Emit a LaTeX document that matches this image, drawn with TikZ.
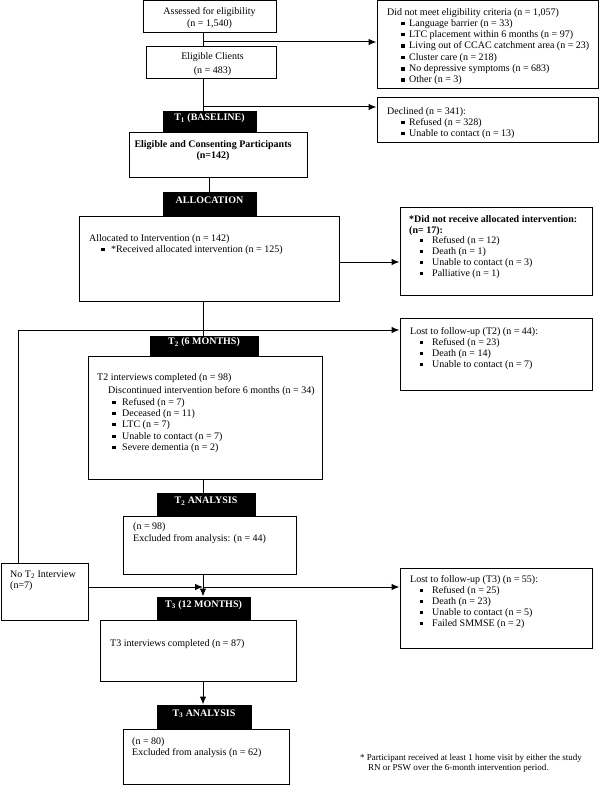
\documentclass[tikz,border=0pt]{standalone}
\usepackage{fontspec}
\setmainfont{Liberation Serif}
\usetikzlibrary{arrows.meta,fit}
\tikzset{
  box/.style={draw=black, line width=1pt, inner sep=0pt, fill=white},
  hdr/.style={fill=black, draw=black, line width=1pt, inner sep=0pt, text=white, font=\fontsize{10}{12}\selectfont\bfseries},
  txt/.style={inner sep=0pt, anchor=base west, font=\fontsize{10}{12}\selectfont},
  btxt/.style={txt, font=\fontsize{10}{12}\selectfont\bfseries},
  ctxt/.style={inner sep=0pt, anchor=base, font=\fontsize{10}{12}\selectfont},
  cbtxt/.style={ctxt, font=\fontsize{10}{12}\selectfont\bfseries},
  ftxt/.style={inner sep=0pt, anchor=base west, font=\fontsize{9}{10.5}\selectfont},
  conn/.style={line width=1pt},
  arr/.style={line width=1pt, -{Latex[length=8pt,width=6.5pt]}},
}
\newcommand\txtat[4]{\node[txt] (#1) at (#2,{#3+3}) {#4};}
\newcommand\bulat[5]{\node[txt] (#1) at (#2,{#4+3}) {\rule[1pt]{3.5pt}{3.5pt}\hspace{\dimexpr #3pt-#2pt-3.5pt\relax}#5};}
\begin{document}
\begin{tikzpicture}[x=1pt,y=-1pt]
\useasboundingbox (0,0) rectangle (600,789);
% ---------- boxes ----------
\node[box, fit={(143,1) (276,33)}] (A) {};
\node[box, fit={(146,47) (276,79)}] (B) {};
\node[box, fit={(377,1) (598,89)}] (R1) {};
\node[box, fit={(377,98) (598,142)}] (R2) {};
\node[box, fit={(129,132) (307,177)}] (C) {};
\node[box, fit={(79,216) (339,301)}] (D) {};
\node[box, fit={(400,207) (592,295)}] (R3) {};
\node[box, fit={(88,356) (322,479)}] (E) {};
\node[box, fit={(400,318) (592,390)}] (R4) {};
\node[box, fit={(123,516) (296,574)}] (F) {};
\node[box, fit={(1,563) (88,620)}] (G) {};
\node[box, fit={(100,620) (296,681)}] (H) {};
\node[box, fit={(400,568) (592,648)}] (R5) {};
\node[box, fit={(123,729) (289,784)}] (I) {};
% ---------- headers ----------
\node[hdr, fit={(163,112) (256,132)}] (T1) {T\textsubscript{1} (BASELINE)};
\node[hdr, fit={(163,192) (256,216)}] (AL) {ALLOCATION};
\node[hdr, fit={(150,336) (258,356)}] (T2) {T\textsubscript{2} (6 MONTHS)};
\node[hdr, fit={(157,493) (255,516)}] (T2A) {T\textsubscript{2} ANALYSIS};
\node[hdr, fit={(157,597) (250,620)}] (T3) {T\textsubscript{3} (12 MONTHS)};
\node[hdr, fit={(157,705) (251,729)}] (T3A) {T\textsubscript{3} ANALYSIS};
% ---------- texts ----------
\node[ctxt] (a1) at (209.5,15) {Assessed for eligibility};
\node[ctxt] (a2) at (209.5,27) {(n = 1,540)};
\node[ctxt] (b1) at (212.5,60) {Eligible Clients};
\node[ctxt] (b2) at (212.5,74) {(n = 483)};
\txtat{r1h}{387}{12.3}{Did not meet eligibility criteria (n = 1,057)}
\bulat{r1a}{401}{409}{23.3}{Language barrier (n = 33)}
\bulat{r1b}{401}{409}{34.5}{LTC placement within 6 months (n = 97)}
\bulat{r1c}{401}{409}{45.8}{Living out of CCAC catchment area (n = 23)}
\bulat{r1d}{401}{409}{57.2}{Cluster care (n = 218)}
\bulat{r1e}{401}{409}{68.6}{No depressive symptoms (n = 683)}
\bulat{r1f}{401}{409}{80}{Other (n = 3)}
\txtat{r2h}{387}{111}{Declined (n = 341):}
\bulat{r2a}{401}{409}{122}{Refused (n = 328)}
\bulat{r2b}{401}{409}{133}{Unable to contact (n = 13)}
\node[cbtxt] (c1) at (213,147) {Eligible and Consenting Participants};
\node[cbtxt] (c2) at (213,158) {(n=142)};
\txtat{d1}{89}{238}{Allocated to Intervention (n = 142)}
\bulat{d2}{101}{111}{249}{*Received allocated intervention (n = 125)}
\node[btxt] (r3h) at (409,222) {*Did not receive allocated intervention:};
\node[btxt] (r3n) at (409,233) {(n= 17):};
\bulat{r3a}{419.5}{432}{240}{Refused (n = 12)}
\bulat{r3b}{419.5}{432}{251}{Death (n = 1)}
\bulat{r3c}{419.5}{432}{262}{Unable to contact (n = 3)}
\bulat{r3d}{419.5}{432}{273}{Palliative (n = 1)}
\txtat{e1}{97}{377}{T2 interviews completed (n = 98)}
\txtat{e2}{108}{390}{Discontinued intervention before 6 months (n = 34)}
\bulat{e3}{112}{122}{402}{Refused (n = 7)}
\bulat{e4}{112}{122}{413}{Deceased (n = 11)}
\bulat{e5}{112}{122}{424}{LTC (n = 7)}
\bulat{e6}{112}{122}{436}{Unable to contact (n = 7)}
\bulat{e7}{112}{122}{447}{Severe dementia (n = 2)}
\txtat{r4h}{410}{331}{Lost to follow-up (T2) (n = 44):}
\bulat{r4a}{419.5}{432}{342}{Refused (n = 23)}
\bulat{r4b}{419.5}{432}{353}{Death (n = 14)}
\bulat{r4c}{419.5}{432}{364}{Unable to contact (n = 7)}
\txtat{f1}{133}{526}{(n = 98)}
\txtat{f2}{133}{538}{Excluded from analysis: (n = 44)}
\txtat{g1}{10}{574}{No T\textsubscript{2} Interview}
\txtat{g2}{10}{585}{(n=7)}
\txtat{h1}{110}{643}{T3 interviews completed (n = 87)}
\txtat{r5h}{410}{579}{Lost to follow-up (T3) (n = 55):}
\bulat{r5a}{419.5}{432}{590}{Refused (n = 25)}
\bulat{r5b}{419.5}{432}{601}{Death (n = 23)}
\bulat{r5c}{419.5}{432}{612}{Unable to contact (n = 5)}
\bulat{r5d}{419.5}{432}{623}{Failed SMMSE (n = 2)}
\txtat{i1}{132}{741.5}{(n = 80)}
\txtat{i2}{132}{752.5}{Excluded from analysis (n = 62)}
\node[ftxt] (fn1) at (360,760) {* Participant received at least 1 home visit by either the study};
\node[ftxt] (fn2) at (368,770) {RN or PSW over the 6-month intervention period.};
% ---------- connectors ----------
\coordinate (j1) at (203,42);
\coordinate (j2) at (203,107);
\coordinate (j3) at (209,185);
\coordinate (j4) at (0,262);
\coordinate (j5) at (203,330);
\coordinate (L1) at (18,330);
\coordinate (j6) at (203,587);
\draw[conn] (A.south -| j1) -- (B.north -| j1);
\draw[arr] (j1) -- (j1 -| R1.west);
\draw[conn] (B.south -| j2) -- (T1.north -| j2);
\draw[arr] (j2) -- (j2 -| R2.west);
\draw[conn] (C.south -| j3) -- (AL.north -| j3);
\draw[arr] (D.east |- j4) -- (R3.west |- j4);
\draw[conn] (D.south -| j5) -- (T2.north -| j5);
\draw[arr] (L1) -- (L1 -| R4.west);
\draw[conn] (L1) -- (L1 |- G.north);
\draw[conn] (E.south -| j5) -- (T2A.north -| j5);
\draw[arr] (G.east |- j6) -- (j6);
\draw[arr] (j6) -- (j6 -| R5.west);
\draw[arr] (F.south -| j6) -- (T3.north -| j6);
\draw[arr] (H.south -| j6) -- (T3A.north -| j6);
\end{tikzpicture}
\end{document}
